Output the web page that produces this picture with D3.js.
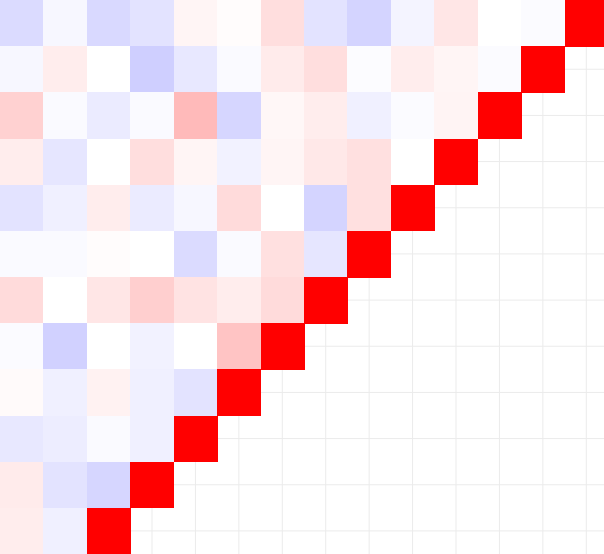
<!DOCTYPE html>
<html>
<head>
<meta charset="utf-8">
<script src="https://cdn.jsdelivr.net/npm/d3@7"></script>
<style>
  html, body { margin: 0; padding: 0; background: #ffffff; overflow: hidden; }
  svg { display: block; }
</style>
</head>
<body>
<svg id="chart" width="604" height="554"></svg>
<script>
// Column variables (x) and visible row variables (y)
const xCategories = ["V1","V2","V3","V4","V5","V6","V7","V8","V9","V10","V11","V12","V13","V14"];
const yCategories = ["V14","V13","V12","V11","V10","V9","V8","V7","V6","V5","V4","V3"];

// Correlation values per visible row (row i covers columns 0 .. 13-i; last entry is the diagonal = 1)
const row0  = [-0.14, -0.03, -0.15, -0.11, 0.04, 0.01, 0.13, -0.11, -0.17, -0.045, 0.10, 0.00, -0.015, 1];
const row1  = [-0.03, 0.07, 0.00, -0.19, -0.09, -0.02, 0.08, 0.13, -0.01, 0.07, 0.04, -0.015, 1];
const row2  = [0.18, -0.02, -0.08, -0.02, 0.27, -0.16, 0.03, 0.07, -0.06, -0.015, 0.045, 1];
const row3  = [0.07, -0.10, 0.00, 0.13, 0.04, -0.05, 0.04, 0.09, 0.12, 0.00, 1];
const row4  = [-0.11, -0.06, 0.07, -0.08, -0.03, 0.14, 0.00, -0.17, 0.12, 1];
const row5  = [-0.02, -0.02, 0.01, 0.00, -0.14, -0.02, 0.12, -0.10, 1];
const row6  = [0.14, 0.00, 0.10, 0.19, 0.11, 0.07, 0.14, 1];
const row7  = [-0.015, -0.18, 0.00, -0.05, 0.00, 0.23, 1];
const row8  = [0.02, -0.06, 0.05, -0.06, -0.11, 1];
const row9  = [-0.09, -0.07, -0.02, -0.06, 1];
const row10 = [0.08, -0.11, -0.16, 1];
const row11 = [0.07, -0.06, 1];
const rows = [row0,row1,row2,row3,row4,row5,row6,row7,row8,row9,row10,row11];

const W = 604, H = 554;
const svg = d3.select("#chart");

const x = d3.scaleBand().domain(xCategories).range([0, 608]).padding(0);
const y = d3.scaleBand().domain(yCategories).range([0, H]).padding(0);
const color = d3.scaleLinear().domain([-1, 0, 1]).range(["#0000ff", "#ffffff", "#ff0000"]);

// gridlines at category centres
const gx = svg.append("g").attr("transform", `translate(0,${H})`)
  .call(d3.axisBottom(x).tickSizeInner(-H).tickSizeOuter(0).tickFormat(""));
gx.select(".domain").remove();
gx.selectAll("line").attr("stroke", "#ebebeb").attr("stroke-width", 1);

const gy = svg.append("g")
  .call(d3.axisLeft(y).tickSizeInner(-608).tickSizeOuter(0).tickFormat(""));
gy.select(".domain").remove();
gy.selectAll("line").attr("stroke", "#ebebeb").attr("stroke-width", 1);

// cells
const cells = [];
rows.forEach((vals, i) => {
  vals.forEach((v, j) => cells.push({ xc: xCategories[j], yc: yCategories[i], v }));
});

svg.append("g").selectAll("rect").data(cells).join("rect")
  .attr("x", d => x(d.xc))
  .attr("y", d => y(d.yc))
  .attr("width", x.bandwidth() + 0.5)
  .attr("height", y.bandwidth() + 0.5)
  .attr("fill", d => color(d.v))
  .attr("shape-rendering", "crispEdges");
</script>
</body>
</html>
